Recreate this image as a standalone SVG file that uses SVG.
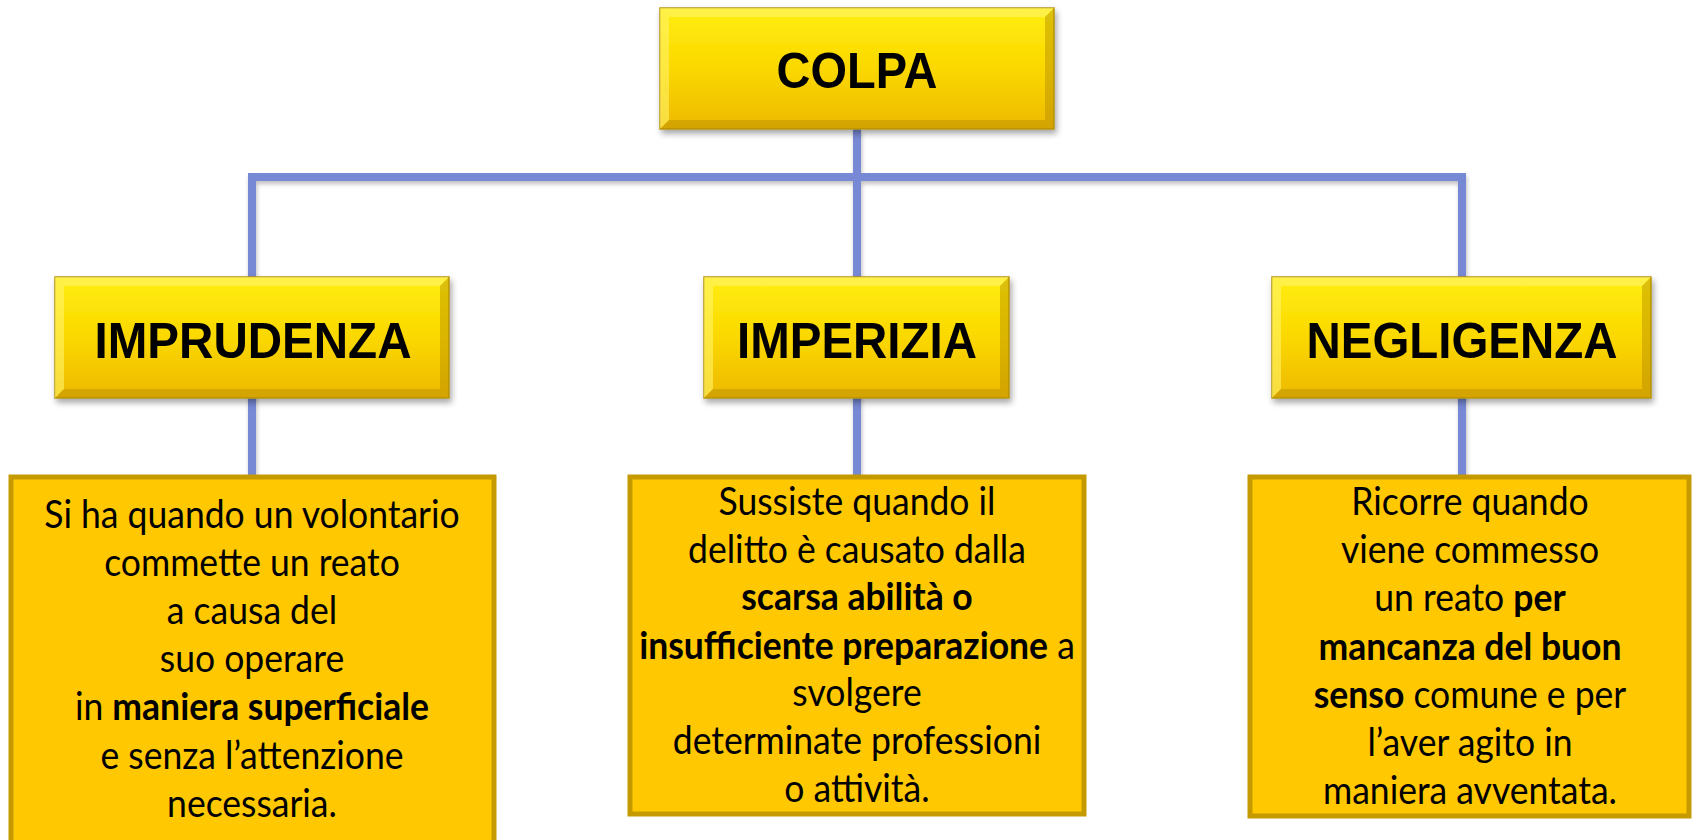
<svg xmlns="http://www.w3.org/2000/svg" width="1694" height="840" viewBox="0 0 1694 840">
<defs>
<linearGradient id="gold" x1="0" y1="0" x2="0" y2="1">
<stop offset="0" stop-color="#FFEE10"/>
<stop offset="0.5" stop-color="#FBD800"/>
<stop offset="1" stop-color="#EDB900"/>
</linearGradient>
<filter id="sh" x="-10%" y="-10%" width="125%" height="135%">
<feGaussianBlur in="SourceAlpha" stdDeviation="3"/>
<feOffset dx="2" dy="4" result="b"/>
<feComponentTransfer><feFuncA type="linear" slope="0.35"/></feComponentTransfer>
<feMerge><feMergeNode/><feMergeNode in="SourceGraphic"/></feMerge>
</filter>
<filter id="lsh" x="-10%" y="-10%" width="120%" height="120%">
<feGaussianBlur in="SourceAlpha" stdDeviation="2"/>
<feOffset dx="1" dy="3"/>
<feComponentTransfer><feFuncA type="linear" slope="0.25"/></feComponentTransfer>
<feMerge><feMergeNode/><feMergeNode in="SourceGraphic"/></feMerge>
</filter>
</defs>
<style>
.head rect.b{fill:url(#gold);stroke:#B8960A;stroke-width:1.5;}
.bevT{fill:#FFF36A;opacity:0.6;}
.bevB{fill:#B48A00;opacity:0.45;}
.ht{font-family:"Liberation Sans",Arial,sans-serif;font-weight:bold;font-size:50px;fill:#000;text-anchor:middle;}
.desc rect{fill:#FFC800;stroke:#C49A00;stroke-width:5;}
.dt{font-family:Lato,"Open Sans",sans-serif;font-size:38px;fill:#000;text-anchor:middle;}
.bold{font-weight:bold;}
.conn{stroke:#7788D4;stroke-width:8;fill:none;}
</style>
<rect width="1694" height="840" fill="#FFFFFF"/>

<g id="connectors" filter="url(#lsh)">
<path class="conn" d="M252 475 V177 H1462 V475"/>
<path class="conn" d="M857 129 V475"/>
</g>

<g id="colpa" class="head" filter="url(#sh)">
<rect class="b" x="660" y="8" width="394" height="121"/>
<polygon class="bevT" points="660,8 1054,8 1045,17 669,17"/>
<polygon class="bevT" points="660,8 669,17 669,120 660,129"/>
<polygon class="bevB" points="660,129 669,120 1045,120 1054,129"/>
<polygon class="bevB" points="1054,8 1054,129 1045,120 1045,17"/>
<text class="ht" x="857" y="88" font-size="52" textLength="161" lengthAdjust="spacingAndGlyphs">COLPA</text>
</g>

<g id="imprudenza" class="head" filter="url(#sh)">
<rect class="b" x="55" y="277" width="394" height="121"/>
<polygon class="bevT" points="55,277 449,277 440,286 64,286"/>
<polygon class="bevT" points="55,277 64,286 64,389 55,398"/>
<polygon class="bevB" points="55,398 64,389 440,389 449,398"/>
<polygon class="bevB" points="449,277 449,398 440,389 440,286"/>
<text class="ht" x="253" y="358" textLength="317" lengthAdjust="spacingAndGlyphs">IMPRUDENZA</text>
</g>

<g id="imperizia" class="head" filter="url(#sh)">
<rect class="b" x="704" y="277" width="305" height="121"/>
<polygon class="bevT" points="704,277 1009,277 1000,286 713,286"/>
<polygon class="bevT" points="704,277 713,286 713,389 704,398"/>
<polygon class="bevB" points="704,398 713,389 1000,389 1009,398"/>
<polygon class="bevB" points="1009,277 1009,398 1000,389 1000,286"/>
<text class="ht" x="857" y="358" textLength="240" lengthAdjust="spacingAndGlyphs">IMPERIZIA</text>
</g>

<g id="negligenza" class="head" filter="url(#sh)">
<rect class="b" x="1272" y="277" width="379" height="121"/>
<polygon class="bevT" points="1272,277 1651,277 1642,286 1281,286"/>
<polygon class="bevT" points="1272,277 1281,286 1281,389 1272,398"/>
<polygon class="bevB" points="1272,398 1281,389 1642,389 1651,398"/>
<polygon class="bevB" points="1651,277 1651,398 1642,389 1642,286"/>
<text class="ht" x="1462" y="358" textLength="311" lengthAdjust="spacingAndGlyphs">NEGLIGENZA</text>
</g>

<g id="desc-imprudenza" class="desc">
<rect x="11" y="477" width="483" height="400"/>
<g transform="matrix(0.935 0 0 1 16.38 0)">
<text class="dt" x="252" y="528">Si ha quando un volontario</text>
<text class="dt" x="252" y="576">commette un reato</text>
<text class="dt" x="252" y="624">a causa del</text>
<text class="dt" x="252" y="672">suo operare</text>
<text class="dt" x="252" y="720">in <tspan class="bold">maniera superficiale</tspan></text>
<text class="dt" x="252" y="769">e senza l’attenzione</text>
<text class="dt" x="252" y="817">necessaria.</text>
</g>
</g>

<g id="desc-imperizia" class="desc">
<rect x="630" y="477" width="454" height="337"/>
<g transform="matrix(0.935 0 0 1 55.7 0)">
<text class="dt" x="857" y="515">Sussiste quando il</text>
<text class="dt" x="857" y="563">delitto è causato dalla</text>
<text class="dt" x="857" y="610"><tspan class="bold">scarsa abilità o</tspan></text>
<text class="dt" x="857" y="659"><tspan class="bold">insufficiente preparazione</tspan> a</text>
<text class="dt" x="857" y="706">svolgere</text>
<text class="dt" x="857" y="754">determinate professioni</text>
<text class="dt" x="857" y="802">o attività.</text>
</g>
</g>

<g id="desc-negligenza" class="desc">
<rect x="1250" y="477" width="439" height="339"/>
<g transform="matrix(0.935 0 0 1 95.55 0)">
<text class="dt" x="1470" y="515">Ricorre quando</text>
<text class="dt" x="1470" y="563">viene commesso</text>
<text class="dt" x="1470" y="611">un reato <tspan class="bold">per</tspan></text>
<text class="dt" x="1470" y="660"><tspan class="bold">mancanza del buon</tspan></text>
<text class="dt" x="1470" y="708"><tspan class="bold">senso</tspan> comune e per</text>
<text class="dt" x="1470" y="756">l’aver agito in</text>
<text class="dt" x="1470" y="804">maniera avventata.</text>
</g>
</g>
</svg>
